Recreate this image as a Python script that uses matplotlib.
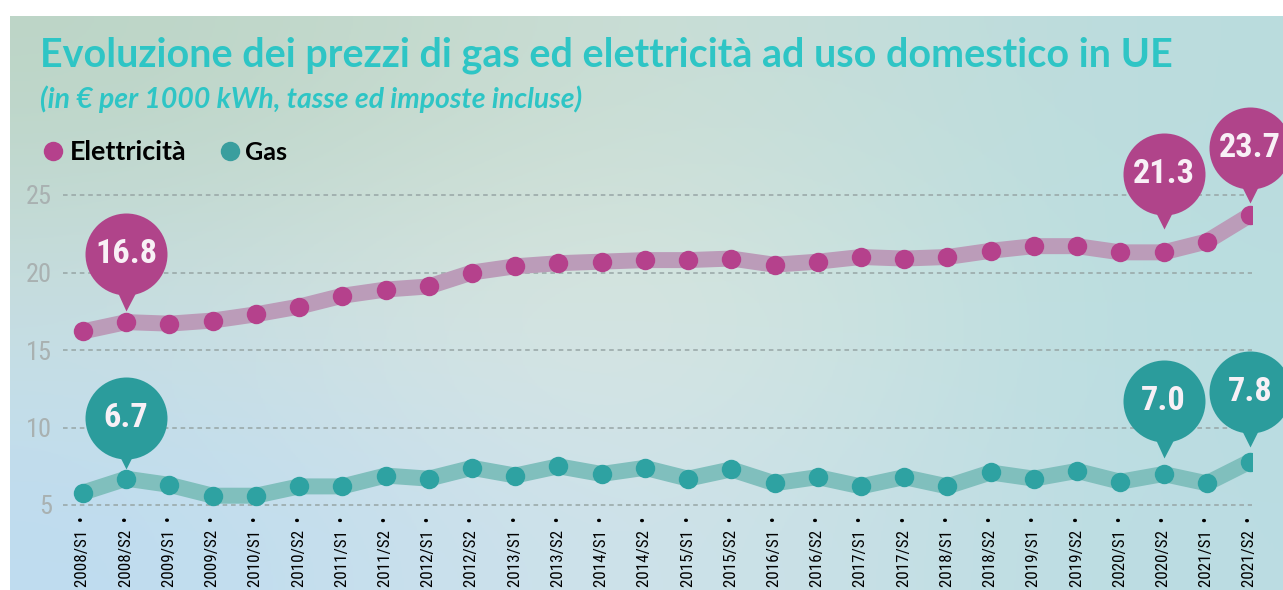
import numpy as np
import matplotlib.pyplot as plt
from matplotlib import font_manager as fm
from matplotlib.transforms import offset_copy
from matplotlib.lines import Line2D

# dati (€ per 1000 kWh)
periodi = ['2008/S1', '2008/S2', '2009/S1', '2009/S2', '2010/S1', '2010/S2', '2011/S1',
           '2011/S2', '2012/S1', '2012/S2', '2013/S1', '2013/S2', '2014/S1', '2014/S2',
           '2015/S1', '2015/S2', '2016/S1', '2016/S2', '2017/S1', '2017/S2', '2018/S1',
           '2018/S2', '2019/S1', '2019/S2', '2020/S1', '2020/S2', '2021/S1', '2021/S2']
elettricita = [16.2, 16.8, 16.7, 16.9, 17.3, 17.8, 18.5, 18.9, 19.1, 20.0, 20.4, 20.6, 20.7, 20.8,
               20.8, 20.9, 20.5, 20.7, 21.0, 20.9, 21.0, 21.4, 21.7, 21.7, 21.3, 21.3, 22.0, 23.7]
gas = [5.8, 6.7, 6.3, 5.6, 5.6, 6.2, 6.2, 6.9, 6.7, 7.4, 6.9, 7.5, 7.0, 7.4,
       6.7, 7.3, 6.4, 6.8, 6.2, 6.8, 6.2, 7.1, 6.7, 7.2, 6.5, 7.0, 6.4, 7.8]
y_ticks = [5, 10, 15, 20, 25]
evidenziati = [1, 25, 27]

W, H = 1283, 590


# cerca un font stretto (condensed/narrow) per numeri ed etichette
def font_stretto(bold):
    cand = []
    for f in fm.fontManager.ttflist:
        narrow = f.stretch in ('condensed', 'semi-condensed', 'extra-condensed') or \
            any(k in f.name for k in ('Condensed', 'Narrow'))
        if not narrow or f.style != 'normal':
            continue
        w = f.weight if isinstance(f.weight, int) else fm.weight_dict.get(f.weight, 400)
        if bold != (w >= 600) or w > 800 or (not bold and w < 400):
            continue
        rank = next((i for i, k in enumerate(['Roboto', 'Liberation', 'Noto Sans', 'DejaVu',
                                              'Open Sans']) if k in f.name), 9)
        cand.append((rank, '[' in f.fname, abs(w - (700 if bold else 400)), f.fname))
    if cand:
        return fm.FontProperties(fname=sorted(cand)[0][3])
    return fm.FontProperties(family='Roboto', weight='bold' if bold else 'normal')


fp_reg = font_stretto(False)
fp_bold = font_stretto(True)

fig = plt.figure(figsize=(W / 100, H / 100), dpi=100)
fig.patch.set_facecolor('white')
renderer = fig.canvas.get_renderer()


def larghezza(s, fp, size):
    t = fig.text(0, 0, s, fontproperties=fp, fontsize=size)
    w = t.get_window_extent(renderer).width
    t.remove()
    return w


# sfondo sfumato
bg = fig.add_axes([10 / W, 0, 1 - 10 / W, (H - 16) / H])
grad = np.array([
    [[188, 213, 198], [206, 223, 214], [186, 220, 222]],
    [[200, 222, 226], [226, 234, 224], [184, 221, 224]],
    [[190, 220, 240], [212, 228, 234], [186, 220, 226]],
]) / 255
bg.imshow(grad, aspect='auto', interpolation='bicubic', extent=(0, 1, 0, 1))
bg.axis('off')

# area del grafico
ax = fig.add_axes([63 / W, 1 - 515 / H, (1252 - 63) / W, (515 - 180) / H])
ax.patch.set_alpha(0)
dx, dy = 43.22, 15.5
ax.set_xlim((63 - 83) / dx, (1252 - 83) / dx)
ax.set_ylim(5 - 10 / dy, 5 + 325 / dy)
x = np.arange(len(periodi))

fs_x = 13 * 57 / larghezza('2008/S1', fp_reg, 13)
fs_y = 17 * 26 / larghezza('25', fp_reg, 17)
fs_b = 23 * 62 / larghezza('16.8', fp_bold, 23)

for s in ax.spines.values():
    s.set_visible(False)
ax.set_yticks(y_ticks)
ax.set_yticklabels([str(v) for v in y_ticks], fontproperties=fp_reg, fontsize=fs_y,
                   color='#a9b1b1')
ax.set_xticks(x)
ax.set_xticklabels([p + '  \u2022' for p in periodi], rotation=90, fontproperties=fp_reg,
                   fontsize=fs_x, color='black')
ax.tick_params(axis='both', length=0)
ax.tick_params(axis='y', pad=8)
ax.tick_params(axis='x', pad=1)
ax.grid(axis='y', color='#97a5a5', linestyle=(0, (3, 2.5)), linewidth=1.1)
ax.set_axisbelow(True)

serie = [
    (elettricita, '#bb9cb9', '#b5418c', '#b0448a', [(68, 12), (78, 23), (67, 12)]),
    (gas, '#80bfbd', '#2ea2a2', '#2b9c9c', [(61, 10), (73, 17), (70, 15)]),
]
for vals, c_line, c_dot, c_bub, offs in serie:
    ax.plot(x, vals, color=c_line, lw=11.5, solid_capstyle='round',
            solid_joinstyle='round', zorder=2)
    ax.plot(x, vals, 'o', ms=14, color=c_dot, mec='none', zorder=3)
    for i, (c, t) in zip(evidenziati, offs):
        tr_c = offset_copy(ax.transData, fig=fig, x=0, y=c, units='dots')
        tip_top = c - 41 + 6
        tr_p = offset_copy(ax.transData, fig=fig, x=0, y=(t + tip_top) / 2, units='dots')
        ax.plot(x[i], vals[i], 'v', ms=(tip_top - t) * 0.72, color=c_bub, mec='none',
                transform=tr_p, clip_on=False, zorder=5)
        ax.plot(x[i], vals[i], 'o', ms=82 * 0.72, color=c_bub, mec='none',
                transform=tr_c, clip_on=False, zorder=5)
        ax.text(x[i], vals[i], f'{vals[i]:.1f}', transform=tr_c, ha='center', va='center',
                fontproperties=fp_bold, fontsize=fs_b, color='#f8f0f6',
                zorder=6, clip_on=False)


# titoli e legenda
def testo(px, py, s, width, **kw):
    t = fig.text(px / W, 1 - py / H, s, va='baseline', **kw)
    w = t.get_window_extent(renderer).width
    t.set_fontsize(t.get_fontsize() * width / w)
    return t


testo(40, 67, 'Evoluzione dei prezzi di gas ed elettricità ad uso domestico in UE', 1135,
      family='Lato', fontweight='bold', fontsize=26, color='#2ec5c5')
testo(40, 108, '(in € per 1000 kWh, tasse ed imposte incluse)', 543,
      family='Lato', fontweight='bold', style='italic', fontsize=16, color='#2ec5c5')
testo(70, 160, 'Elettricità', 117, family='Lato', fontweight='bold', fontsize=15, color='black')
testo(245, 160, 'Gas', 42, family='Lato', fontweight='bold', fontsize=15, color='black')
for cx, col in [(53, '#b5418c'), (230, '#3a9e9e')]:
    fig.add_artist(Line2D([cx / W], [1 - 151 / H], marker='o', ms=14, color=col, mec='none'))

fig.savefig('out.png', dpi=100)
